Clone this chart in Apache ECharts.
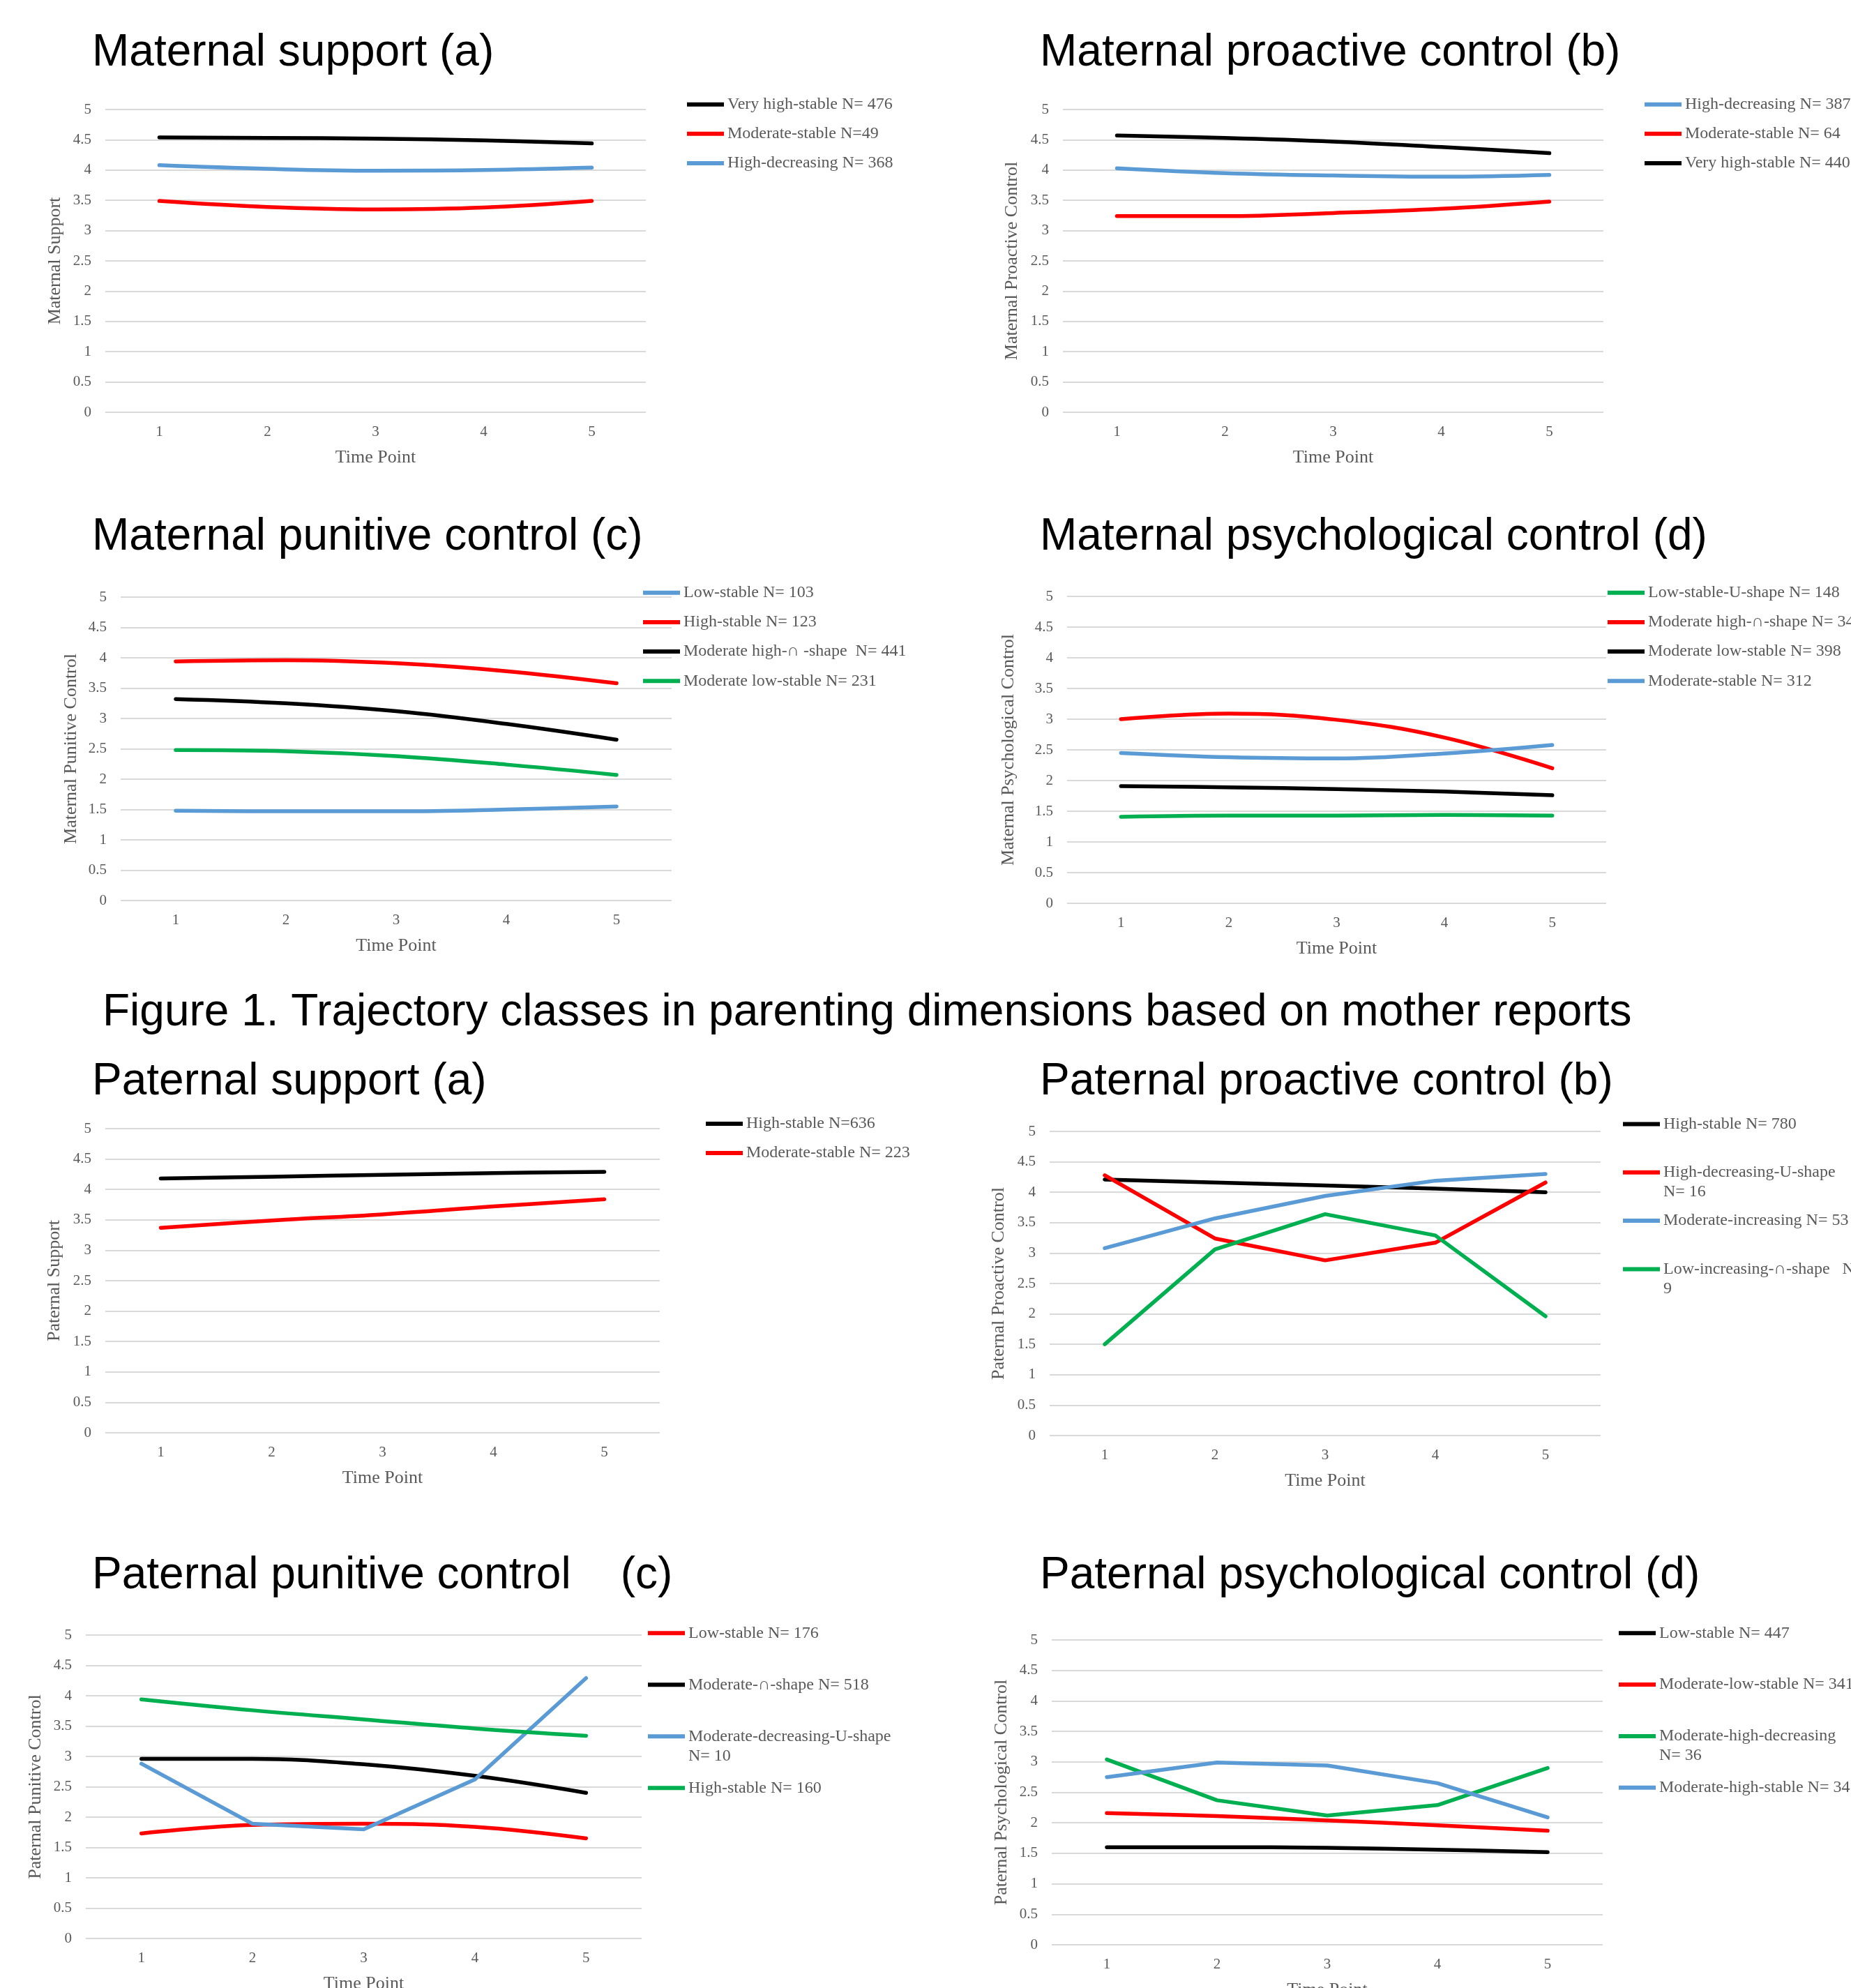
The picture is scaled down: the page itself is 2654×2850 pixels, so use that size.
<!DOCTYPE html>
<html>
<head>
<meta charset="utf-8">
<script src="https://cdn.jsdelivr.net/npm/echarts@6/dist/echarts.min.js"></script>
<style>
html,body{margin:0;padding:0;background:#ffffff;}
#chart{width:2654px;height:2850px;}
</style>
</head>
<body>
<div id="chart"></div>
<script>
// ---------------- DATA ----------------
const timePoints = ['1', '2', '3', '4', '5'];
const yMin = 0, yMax = 5, yStep = 0.5;

const panelTitles = [
  'Maternal support (a)', 'Maternal proactive control (b)',
  'Maternal punitive control (c)', 'Maternal psychological control (d)',
  'Paternal support (a)', 'Paternal proactive control (b)',
  'Paternal punitive control    (c)', 'Paternal psychological control (d)'
];
const figureCaption = 'Figure 1. Trajectory classes in parenting dimensions based on mother reports';
const yAxisNames = [
  'Maternal Support', 'Maternal Proactive Control',
  'Maternal Punitive Control', 'Maternal Psychological Control',
  'Paternal Support', 'Paternal Proactive Control',
  'Paternal Punitive Control', 'Paternal Psychological Control'
];
const xAxisName = 'Time Point';

// (a) Maternal support
const p1Names = ['Very high-stable N= 476', 'Moderate-stable N=49', 'High-decreasing N= 368'];
const p1VeryHighStable = [4.54, 4.53, 4.52, 4.49, 4.44];
const p1ModerateStable = [3.49, 3.39, 3.35, 3.38, 3.49];
const p1HighDecreasing = [4.08, 4.02, 3.99, 4.00, 4.04];

// (b) Maternal proactive control
const p2Names = ['High-decreasing N= 387', 'Moderate-stable N= 64', 'Very high-stable N= 440'];
const p2HighDecreasing = [4.03, 3.95, 3.91, 3.89, 3.92];
const p2ModerateStable = [3.24, 3.24, 3.29, 3.36, 3.48];
const p2VeryHighStable = [4.57, 4.53, 4.47, 4.38, 4.28];

// (c) Maternal punitive control
const p3Names = ['Low-stable N= 103', 'High-stable N= 123', 'Moderate high-\u2229 -shape  N= 441', 'Moderate low-stable N= 231'];
const p3LowStable = [1.48, 1.47, 1.47, 1.50, 1.55];
const p3HighStable = [3.94, 3.96, 3.91, 3.78, 3.58];
const p3ModerateHighCap = [3.32, 3.25, 3.12, 2.91, 2.65];
const p3ModerateLowStable = [2.48, 2.46, 2.38, 2.24, 2.07];

// (d) Maternal psychological control
const p4Names = ['Low-stable-U-shape N= 148', 'Moderate high-\u2229-shape N= 34', 'Moderate low-stable N= 398', 'Moderate-stable N= 312'];
const p4LowStableU = [1.41, 1.43, 1.43, 1.44, 1.43];
const p4ModerateHighCap = [3.00, 3.09, 2.99, 2.70, 2.20];
const p4ModerateLowStable = [1.91, 1.89, 1.86, 1.82, 1.76];
const p4ModerateStable = [2.45, 2.38, 2.36, 2.44, 2.58];

// (a) Paternal support
const p5Names = ['High-stable N=636', 'Moderate-stable N= 223'];
const p5HighStable = [4.18, 4.21, 4.24, 4.27, 4.29];
const p5ModerateStable = [3.37, 3.49, 3.59, 3.72, 3.84];

// (b) Paternal proactive control
const p6Names = ['High-stable N= 780', 'High-decreasing-U-shape\nN= 16', 'Moderate-increasing N= 53', 'Low-increasing-\u2229-shape   N=\n9'];
const p6HighStable = [4.21, 4.16, 4.11, 4.06, 4.00];
const p6HighDecreasingU = [4.28, 3.24, 2.88, 3.17, 4.16];
const p6ModerateIncreasing = [3.08, 3.57, 3.94, 4.19, 4.30];
const p6LowIncreasingCap = [1.50, 3.06, 3.64, 3.29, 1.96];

// (c) Paternal punitive control
const p7Names = ['Low-stable N= 176', 'Moderate-\u2229-shape N= 518', 'Moderate-decreasing-U-shape\nN= 10', 'High-stable N= 160'];
const p7LowStable = [1.73, 1.87, 1.89, 1.84, 1.65];
const p7ModerateCap = [2.96, 2.96, 2.87, 2.68, 2.40];
const p7ModerateDecreasingU = [2.88, 1.89, 1.80, 2.62, 4.29];
const p7HighStable = [3.94, 3.76, 3.61, 3.46, 3.34];

// (d) Paternal psychological control
const p8Names = ['Low-stable N= 447', 'Moderate-low-stable N= 341', 'Moderate-high-decreasing\nN= 36', 'Moderate-high-stable N= 34'];
const p8LowStable = [1.60, 1.60, 1.59, 1.56, 1.52];
const p8ModerateLowStable = [2.16, 2.11, 2.04, 1.96, 1.87];
const p8ModerateHighDecreasing = [3.04, 2.37, 2.12, 2.29, 2.90];
const p8ModerateHighStable = [2.75, 2.99, 2.94, 2.65, 2.09];

// ---------------- STYLE / LAYOUT ----------------
const BLACK = '#000000', RED = '#FF0000', BLUE = '#5B9BD5', GREEN = '#00B050';
const SERIF = '"Liberation Serif", "Times New Roman", serif';
const SANS = '"Liberation Sans", Arial, sans-serif';
const GRAY_TEXT = '#595959';
const LEG_LH = 28;
const LINE_W = 5.5;

const panels = [
  { title: [132, 76], grid: { left: 151, top: 157, width: 775, height: 434 }, yGap: 59,
    legend: { left: 985, center: 149.7, step: 42.1 },
    series: [[p1Names[0], p1VeryHighStable, BLACK, 0.4], [p1Names[1], p1ModerateStable, RED, 0.4], [p1Names[2], p1HighDecreasing, BLUE, 0.4]] },
  { title: [1491, 76], grid: { left: 1524, top: 157, width: 775, height: 434 }, yGap: 60,
    legend: { left: 2358, center: 149.7, step: 42.1 },
    series: [[p2Names[0], p2HighDecreasing, BLUE, 0.4], [p2Names[1], p2ModerateStable, RED, 0.4], [p2Names[2], p2VeryHighStable, BLACK, 0.4]] },
  { title: [132, 770], grid: { left: 173, top: 856, width: 790, height: 435 }, yGap: 58,
    legend: { left: 922, center: 849.7, step: 42.2 },
    series: [[p3Names[0], p3LowStable, BLUE, 0.4], [p3Names[1], p3HighStable, RED, 0.4], [p3Names[2], p3ModerateHighCap, BLACK, 0.4], [p3Names[3], p3ModerateLowStable, GREEN, 0.4]] },
  { title: [1491, 770], grid: { left: 1530, top: 855, width: 773, height: 440 }, yGap: 71,
    legend: { left: 2305, center: 849.7, step: 42.2 },
    series: [[p4Names[0], p4LowStableU, GREEN, 0.4], [p4Names[1], p4ModerateHighCap, RED, 0.4], [p4Names[2], p4ModerateLowStable, BLACK, 0.4], [p4Names[3], p4ModerateStable, BLUE, 0.4]] },
  { title: [132, 1551], grid: { left: 151, top: 1618, width: 795, height: 436 }, yGap: 60,
    legend: { left: 1012, center: 1611, step: 42 },
    series: [[p5Names[0], p5HighStable, BLACK, 0.4], [p5Names[1], p5ModerateStable, RED, 0.4]] },
  { title: [1491, 1551], grid: { left: 1505, top: 1622, width: 790, height: 436 }, yGap: 60,
    legend: { left: 2327, center: 1611.5, step: 69.3 },
    series: [[p6Names[0], p6HighStable, BLACK, 0], [p6Names[1], p6HighDecreasingU, RED, 0], [p6Names[2], p6ModerateIncreasing, BLUE, 0], [p6Names[3], p6LowIncreasingCap, GREEN, 0]] },
  { title: [132, 2259], grid: { left: 123, top: 2344, width: 797, height: 435 }, yGap: 59,
    legend: { left: 929, center: 2341.3, step: 74 },
    series: [[p7Names[0], p7LowStable, RED, 0.4], [p7Names[1], p7ModerateCap, BLACK, 0.4], [p7Names[2], p7ModerateDecreasingU, BLUE, 0], [p7Names[3], p7HighStable, GREEN, 0.4]] },
  { title: [1491, 2259], grid: { left: 1508, top: 2351, width: 790, height: 437 }, yGap: 59,
    legend: { left: 2321, center: 2341.3, step: 73.8 },
    series: [[p8Names[0], p8LowStable, BLACK, 0.4], [p8Names[1], p8ModerateLowStable, RED, 0.4], [p8Names[2], p8ModerateHighDecreasing, GREEN, 0], [p8Names[3], p8ModerateHighStable, BLUE, 0]] }
];

// ---------------- BUILD OPTION ----------------
const option = {
  backgroundColor: '#ffffff',
  animation: false,
  title: [], grid: [], xAxis: [], yAxis: [], legend: [], series: [], graphic: []
};

option.title.push({
  text: figureCaption, left: 147, top: 1452 - 32, padding: 0,
  textStyle: { fontFamily: SANS, fontSize: 64, fontWeight: 'normal', color: '#000000', lineHeight: 64 }
});

panels.forEach((p, i) => {
  option.title.push({
    text: panelTitles[i], left: p.title[0], top: p.title[1] - 32, padding: 0,
    textStyle: { fontFamily: SANS, fontSize: 64, fontWeight: 'normal', color: '#000000', lineHeight: 64 }
  });
  option.grid.push(Object.assign({ containLabel: false, outerBoundsMode: 'none' }, p.grid));
  option.xAxis.push({
    type: 'category', gridIndex: i, data: timePoints, boundaryGap: true,
    axisLine: { show: false }, axisTick: { show: false },
    axisLabel: { margin: 18, fontFamily: SERIF, fontSize: 21, color: GRAY_TEXT },
    name: xAxisName, nameLocation: 'middle', nameGap: 52, nameMoveOverlap: false,
    nameTextStyle: { fontFamily: SERIF, fontSize: 26, color: GRAY_TEXT }
  });
  option.yAxis.push({
    type: 'value', gridIndex: i, min: yMin, max: yMax, interval: yStep,
    axisLine: { show: false }, axisTick: { show: false },
    axisLabel: { margin: 20, fontFamily: SERIF, fontSize: 21, color: GRAY_TEXT },
    splitLine: { show: true, lineStyle: { color: '#d9d9d9', width: 2 } },
    name: yAxisNames[i], nameLocation: 'middle', nameGap: p.yGap, nameMoveOverlap: false,
    nameTextStyle: { fontFamily: SERIF, fontSize: 26, color: GRAY_TEXT }
  });
  const names = p.series.map(s => s[0]);
  option.legend.push({
    data: names, orient: 'vertical', left: p.legend.left, top: p.legend.center - LEG_LH / 2,
    itemWidth: 53, itemHeight: 6, itemGap: p.legend.step - LEG_LH, icon: 'rect', padding: 0,
    selectedMode: false,
    formatter: n => n.split('\n')[0],
    textStyle: { fontFamily: SERIF, fontSize: 24, color: GRAY_TEXT, lineHeight: LEG_LH }
  });
  p.series.forEach((s, k) => {
    option.series.push({
      type: 'line', name: s[0], data: s[1], xAxisIndex: i, yAxisIndex: i,
      symbol: 'none', smooth: s[3] > 0 ? s[3] : false,
      itemStyle: { color: s[2] },
      lineStyle: { color: s[2], width: LINE_W, cap: 'round', join: 'round' },
      z: 3
    });
    const parts = s[0].split('\n');
    if (parts.length > 1) {
      option.graphic.push({
        type: 'text',
        x: p.legend.left + 53 + 5,
        y: p.legend.center + k * p.legend.step + LEG_LH,
        style: { text: parts[1], fontFamily: SERIF, fontSize: 24, fill: GRAY_TEXT, verticalAlign: 'middle', align: 'left' }
      });
    }
  });
});

const chart = echarts.init(document.getElementById('chart'), null, { renderer: 'canvas', width: 2654, height: 2850 });
chart.setOption(option);
</script>
</body>
</html>
